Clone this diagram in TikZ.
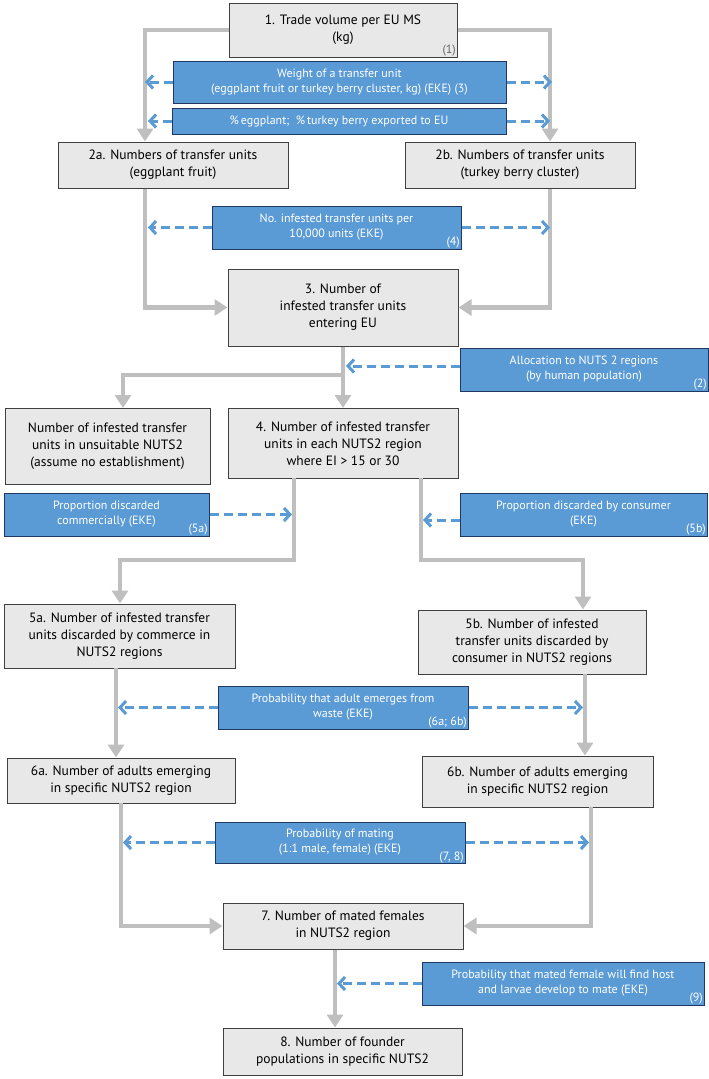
\documentclass[tikz,border=0pt]{standalone}
\usepackage{fontspec}
\setmainfont{PT Sans}
\usetikzlibrary{arrows.meta}
\definecolor{gfill}{HTML}{E8E8E8}
\definecolor{gline}{HTML}{BFBFBF}
\definecolor{bfill}{HTML}{5B9BD5}
\definecolor{bdraw}{HTML}{203864}
\begin{document}
\begin{tikzpicture}[x=1pt,y=-1pt,
 gbox/.style={draw=black!75,line width=1pt,fill=gfill,align=center,inner sep=2pt,font=\fontsize{13.5}{17}\selectfont},
 bbox/.style={draw=bdraw,line width=1pt,fill=bfill,text=white,align=center,inner sep=2pt,font=\fontsize{12}{15}\selectfont},
 tag/.style={anchor=south east,inner sep=1.5pt,font=\fontsize{12}{14}\selectfont,text=white},
 flow/.style={draw=gline,line width=4.5pt,-{Triangle[length=13pt,width=16pt]}},
 flown/.style={draw=gline,line width=4.5pt},
 eke/.style={draw=bfill,line width=3pt,dash pattern=on 9pt off 5pt,-{Straight Barb[length=6pt,width=13pt,line width=3pt]}}]
\useasboundingbox (0,0) rectangle (709,1079);
% grey boxes
\node[gbox,minimum width=228,minimum height=54] (b1) at (343,30) {1. Trade volume per EU MS\\(kg)};
\node[anchor=south east,inner sep=1.5pt,font=\fontsize{12}{14}\selectfont,text=black!60] at (b1.south east) {(1)};
\node[gbox,minimum width=230,minimum height=46] (b2a) at (173,165) {2a. Numbers of transfer units\\(eggplant fruit)};
\node[gbox,minimum width=230,minimum height=46] (b2b) at (520,165) {2b. Numbers of transfer units\\(turkey berry cluster)};
\node[gbox,minimum width=230,minimum height=77] (b3) at (343,307.5) {3. Number of\\infested transfer units\\entering EU};
\node[gbox,minimum width=205,minimum height=76,anchor=north] (bu) at (107.5,408) {Number of infested transfer\\units in unsuitable NUTS2\\(assume no establishment)};
\node[gbox,minimum width=230,minimum height=70,anchor=north] (b4) at (343,408) {4. Number of infested transfer\\units in each NUTS2 region\\where EI > 15 or 30};
\node[gbox,minimum width=231,minimum height=64] (b5a) at (119.5,636) {5a. Number of infested transfer\\units discarded by commerce in\\NUTS2 regions};
\node[gbox,minimum width=228,minimum height=64] (b5b) at (532,642) {5b. Number of infested\\transfer units discarded by\\consumer in NUTS2 regions};
\node[gbox,minimum width=228,minimum height=45] (b6a) at (121,780.5) {6a. Number of adults emerging\\in specific NUTS2 region};
\node[gbox,minimum width=231,minimum height=51] (b6b) at (537.5,781.5) {6b. Number of adults emerging\\in specific NUTS2 region};
\node[gbox,minimum width=240,minimum height=46] (b7) at (343,926) {7. Number of mated females\\in NUTS2 region};
\node[gbox,minimum width=239,minimum height=47] (b8) at (342.5,1051.5) {8. Number of founder\\populations in specific NUTS2};
% blue boxes
\node[bbox,minimum width=333,minimum height=42] (bw) at (339.5,82) {Weight of a transfer unit\\(eggplant fruit or turkey berry cluster, kg) (EKE) (3)};
\node[bbox,minimum width=334,minimum height=26] (bp) at (339,121) {\%\,eggplant;\ \ \%\,turkey berry exported to EU};
\node[bbox,minimum width=249,minimum height=43] (bk4) at (336.5,227.5) {No. infested transfer units per\\10,000 units (EKE)};
\node[tag] at (bk4.south east) {(4)};
\node[bbox,minimum width=248,minimum height=43] (ba) at (584,369.5) {Allocation to NUTS 2 regions\\(by human population)};
\node[tag] at (ba.south east) {(2)};
\node[bbox,minimum width=205,minimum height=43] (b5ae) at (106.5,514.5) {Proportion discarded\\commercially (EKE)};
\node[tag] at (b5ae.south east) {(5a)};
\node[bbox,minimum width=247,minimum height=43] (b5be) at (583.5,514.5) {Proportion discarded by consumer\\(EKE)};
\node[tag] at (b5be.south east) {(5b)};
\node[bbox,minimum width=250,minimum height=43] (b6e) at (343,707.5) {Probability that adult emerges from\\waste (EKE)};
\node[tag] at (b6e.south east) {(6a; 6b)};
\node[bbox,minimum width=250,minimum height=41] (b7e) at (340,842.5) {Probability of mating\\(1:1 male, female) (EKE)\hspace{40pt}};
\node[tag] at ([yshift=-1pt]b7e.south east) {(7, 8)\hspace{4pt}};
\node[bbox,minimum width=282,minimum height=43] (b9e) at (563,983.5) {Probability that mated female will find host\\and larvae develop to mate (EKE)};
\node[tag] at (b9e.south east) {(9)};
% junction coordinates
\coordinate (l1) at (145,82); \coordinate (r1) at (552,82);
\coordinate (l2) at (148,121); \coordinate (r2) at (550,121);
\coordinate (l4) at (148,227.5); \coordinate (r4) at (550,227.5);
\coordinate (j3) at (343,375); \coordinate (ju) at (123,375);
\coordinate (ka) at (346,366);
\coordinate (p4a) at (294,478); \coordinate (q4a) at (294,560); \coordinate (s5a) at (120,560);
\coordinate (p4b) at (421,478); \coordinate (q4b) at (421,560); \coordinate (s5b) at (583,560);
\coordinate (k5a) at (292,514.5); \coordinate (k5b) at (423,520);
\coordinate (p5a) at (116,668); \coordinate (p5b) at (585,674);
\coordinate (k6a) at (118,707.5); \coordinate (k6b) at (583,707.5);
\coordinate (p6a) at (121,803); \coordinate (p6b) at (591,807);
\coordinate (k7a) at (123,842.5); \coordinate (k7b) at (589,842.5);
\coordinate (k9) at (337,983.5);
% grey flows
\draw[flow] (b1.west) -| (b2a.north -| 145,0);
\draw[flow] (b1.east) -| (b2b.north -| 550,0);
\draw[flow] (b2a.south -| 145,0) |- (b3.west);
\draw[flow] (b2b.south -| 550,0) |- (b3.east);
\draw[flow] (b3.south) -- (b4.north);
\draw[flow] (j3) -- (ju) -- (bu.north -| ju);
\draw[flow] (p4a) -- (q4a) -- (s5a) -- (b5a.north -| s5a);
\draw[flow] (p4b) -- (q4b) -- (s5b) -- (b5b.north -| s5b);
\draw[flow] (p5a) -- (b6a.north -| p5a);
\draw[flow] (p5b) -- (b6b.north -| p5b);
\draw[flow] (p6a) |- (b7.west);
\draw[flow] (p6b) |- (b7.east);
\draw[flow] (b7.south -| 335,0) -- (b8.north -| 335,0);
% dashed EKE arrows
\draw[eke] (bw.west) -- (l1 |- bw.west);
\draw[eke] (bw.east) -- (r1 |- bw.east);
\draw[eke] (bp.west) -- (l2);
\draw[eke] (bp.east) -- (r2);
\draw[eke] (bk4.west) -- (l4);
\draw[eke] (bk4.east) -- (r4);
\draw[eke] (ba.west |- ka) -- (ka);
\draw[eke] (b5ae.east) -- (k5a);
\draw[eke] (b5be.west |- k5b) -- (k5b);
\draw[eke] (b6e.west) -- (k6a);
\draw[eke] (b6e.east) -- (k6b);
\draw[eke] (b7e.west) -- (k7a);
\draw[eke] (b7e.east) -- (k7b);
\draw[eke] (b9e.west) -- (k9);
\end{tikzpicture}
\end{document}
